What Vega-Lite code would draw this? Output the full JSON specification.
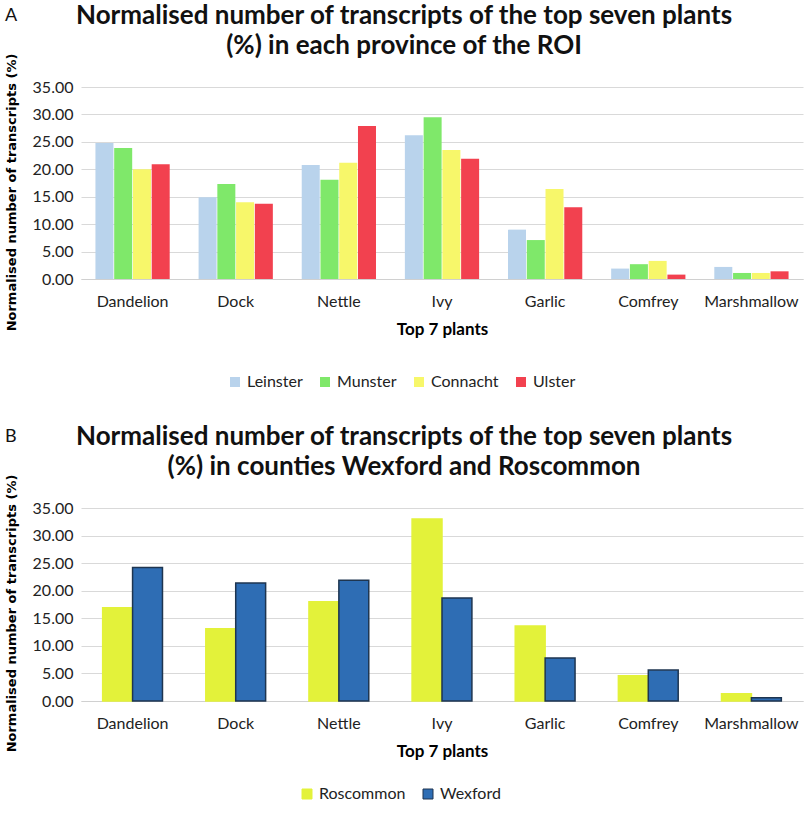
{
  "$schema": "https://vega.github.io/schema/vega-lite/v6.json",
  "background": "white",
  "padding": {"left": 5, "right": 2, "top": 3, "bottom": 2},
  "config": {
    "font": "Lato",
    "view": {"stroke": null},
    "axis": {
      "labelFont": "Lato",
      "labelFontSize": 16,
      "labelColor": "#222222",
      "gridColor": "#d9d9d9",
      "domainColor": "#d0d0d0",
      "ticks": false
    },
    "legend": {"labelFont": "Lato", "labelFontSize": 16, "labelColor": "#222222"},
    "title": {"font": "Lato", "color": "#111111"},
    "bar": {"stroke": null}
  },
  "datasets": {
    "provinces": [
      {"plant": "Dandelion", "province": "Leinster", "value": 24.8},
      {"plant": "Dandelion", "province": "Munster", "value": 23.9},
      {"plant": "Dandelion", "province": "Connacht", "value": 20.0},
      {"plant": "Dandelion", "province": "Ulster", "value": 20.9},
      {"plant": "Dock", "province": "Leinster", "value": 14.9},
      {"plant": "Dock", "province": "Munster", "value": 17.3},
      {"plant": "Dock", "province": "Connacht", "value": 14.0},
      {"plant": "Dock", "province": "Ulster", "value": 13.7},
      {"plant": "Nettle", "province": "Leinster", "value": 20.8},
      {"plant": "Nettle", "province": "Munster", "value": 18.1},
      {"plant": "Nettle", "province": "Connacht", "value": 21.2},
      {"plant": "Nettle", "province": "Ulster", "value": 27.9},
      {"plant": "Ivy", "province": "Leinster", "value": 26.2},
      {"plant": "Ivy", "province": "Munster", "value": 29.5},
      {"plant": "Ivy", "province": "Connacht", "value": 23.5},
      {"plant": "Ivy", "province": "Ulster", "value": 21.9},
      {"plant": "Garlic", "province": "Leinster", "value": 9.0},
      {"plant": "Garlic", "province": "Munster", "value": 7.1},
      {"plant": "Garlic", "province": "Connacht", "value": 16.4},
      {"plant": "Garlic", "province": "Ulster", "value": 13.1},
      {"plant": "Comfrey", "province": "Leinster", "value": 1.9},
      {"plant": "Comfrey", "province": "Munster", "value": 2.7},
      {"plant": "Comfrey", "province": "Connacht", "value": 3.3},
      {"plant": "Comfrey", "province": "Ulster", "value": 0.8},
      {"plant": "Marshmallow", "province": "Leinster", "value": 2.2},
      {"plant": "Marshmallow", "province": "Munster", "value": 1.1},
      {"plant": "Marshmallow", "province": "Connacht", "value": 1.1},
      {"plant": "Marshmallow", "province": "Ulster", "value": 1.4}
    ],
    "counties": [
      {"plant": "Dandelion", "county": "Roscommon", "value": 16.9},
      {"plant": "Dandelion", "county": "Wexford", "value": 24.2},
      {"plant": "Dock", "county": "Roscommon", "value": 13.1},
      {"plant": "Dock", "county": "Wexford", "value": 21.4},
      {"plant": "Nettle", "county": "Roscommon", "value": 18.0},
      {"plant": "Nettle", "county": "Wexford", "value": 21.9},
      {"plant": "Ivy", "county": "Roscommon", "value": 33.0},
      {"plant": "Ivy", "county": "Wexford", "value": 18.7},
      {"plant": "Garlic", "county": "Roscommon", "value": 13.6},
      {"plant": "Garlic", "county": "Wexford", "value": 7.8},
      {"plant": "Comfrey", "county": "Roscommon", "value": 4.6},
      {"plant": "Comfrey", "county": "Wexford", "value": 5.6},
      {"plant": "Marshmallow", "county": "Roscommon", "value": 1.3},
      {"plant": "Marshmallow", "county": "Wexford", "value": 0.6}
    ]
  },
  "vconcat": [
    {
      "title": {"text": "A", "anchor": "start", "frame": "bounds", "fontSize": 18, "fontWeight": "normal", "offset": -22, "dx": 0},
      "vconcat": [
        {
          "width": 722,
          "height": 192,
          "title": {
            "text": ["Normalised number of transcripts of the top seven plants", "(%) in each province of the ROI"],
            "fontSize": 26,
            "fontWeight": "bold",
            "lineHeight": 30,
            "anchor": "middle",
            "frame": "bounds",
            "offset": -6
          },
          "data": {"name": "provinces"},
          "mark": {"type": "bar"},
          "encoding": {
            "x": {
              "field": "plant",
              "type": "nominal",
              "sort": ["Dandelion", "Dock", "Nettle", "Ivy", "Garlic", "Comfrey", "Marshmallow"],
              "scale": {"paddingInner": 0.28, "paddingOuter": 0.14},
              "title": "Top 7 plants",
              "axis": {"labelAngle": 0, "labelPadding": 14, "titleFontSize": 17, "titleFontWeight": "bold", "titlePadding": 12}
            },
            "xOffset": {
              "field": "province",
              "type": "nominal",
              "scale": {"domain": ["Leinster", "Munster", "Connacht", "Ulster"], "paddingInner": 0.04}
            },
            "y": {
              "field": "value",
              "type": "quantitative",
              "scale": {"domain": [0, 35]},
              "title": "Normalised number of transcripts (%)",
              "axis": {
                "values": [0, 5, 10, 15, 20, 25, 30, 35],
                "format": ".2f",
                "domain": false,
                "labelPadding": 8,
                "titleFont": "DejaVu Sans",
                "titleFontSize": 13,
                "titleFontWeight": "bold",
                "titlePadding": 14,
                "titleY": 105
              }
            },
            "color": {
              "field": "province",
              "type": "nominal",
              "scale": {
                "domain": ["Leinster", "Munster", "Connacht", "Ulster"],
                "range": ["#b9d3ec", "#7fe86a", "#f7f76a", "#f2414f"]
              },
              "legend": {
                "orient": "none",
                "legendX": 146,
                "legendY": 287,
                "direction": "horizontal",
                "title": null,
                "symbolType": "square",
                "symbolSize": 100,
                "columnPadding": 14
              }
            }
          }
        }
      ]
    },
    {
      "title": {"text": "B", "anchor": "start", "frame": "bounds", "fontSize": 18, "fontWeight": "normal", "offset": -22, "dx": 0},
      "vconcat": [
        {
          "width": 722,
          "height": 193,
          "title": {
            "text": ["Normalised number of transcripts of the top seven plants", "(%) in counties Wexford and Roscommon"],
            "fontSize": 26,
            "fontWeight": "bold",
            "lineHeight": 30,
            "anchor": "middle",
            "frame": "bounds",
            "offset": -6
          },
          "data": {"name": "counties"},
          "mark": {"type": "bar", "strokeWidth": 1.5},
          "encoding": {
            "x": {
              "field": "plant",
              "type": "nominal",
              "sort": ["Dandelion", "Dock", "Nettle", "Ivy", "Garlic", "Comfrey", "Marshmallow"],
              "scale": {"paddingInner": 0.42, "paddingOuter": 0.21},
              "title": "Top 7 plants",
              "axis": {"labelAngle": 0, "labelPadding": 14, "titleFontSize": 17, "titleFontWeight": "bold", "titlePadding": 12}
            },
            "xOffset": {
              "field": "county",
              "type": "nominal",
              "scale": {"domain": ["Roscommon", "Wexford"], "paddingInner": 0}
            },
            "y": {
              "field": "value",
              "type": "quantitative",
              "scale": {"domain": [0, 35]},
              "title": "Normalised number of transcripts (%)",
              "axis": {
                "values": [0, 5, 10, 15, 20, 25, 30, 35],
                "format": ".2f",
                "domain": false,
                "labelPadding": 8,
                "titleFont": "DejaVu Sans",
                "titleFontSize": 13,
                "titleFontWeight": "bold",
                "titlePadding": 14,
                "titleY": 105
              }
            },
            "color": {
              "field": "county",
              "type": "nominal",
              "scale": {"domain": ["Roscommon", "Wexford"], "range": ["#e3f23a", "#2e6db4"]},
              "legend": {
                "orient": "none",
                "legendX": 218,
                "legendY": 278,
                "direction": "horizontal",
                "title": null,
                "symbolType": "square",
                "symbolSize": 100,
                "symbolStrokeWidth": 1,
                "columnPadding": 14
              }
            },
            "stroke": {
              "field": "county",
              "type": "nominal",
              "scale": {"domain": ["Roscommon", "Wexford"], "range": ["#e3f23a", "#1e3550"]},
              "legend": null
            }
          }
        }
      ]
    }
  ],
  "spacing": 34,
  "resolve": {
    "scale": {"x": "independent", "xOffset": "independent", "y": "independent", "color": "independent", "stroke": "independent"}
  }
}
